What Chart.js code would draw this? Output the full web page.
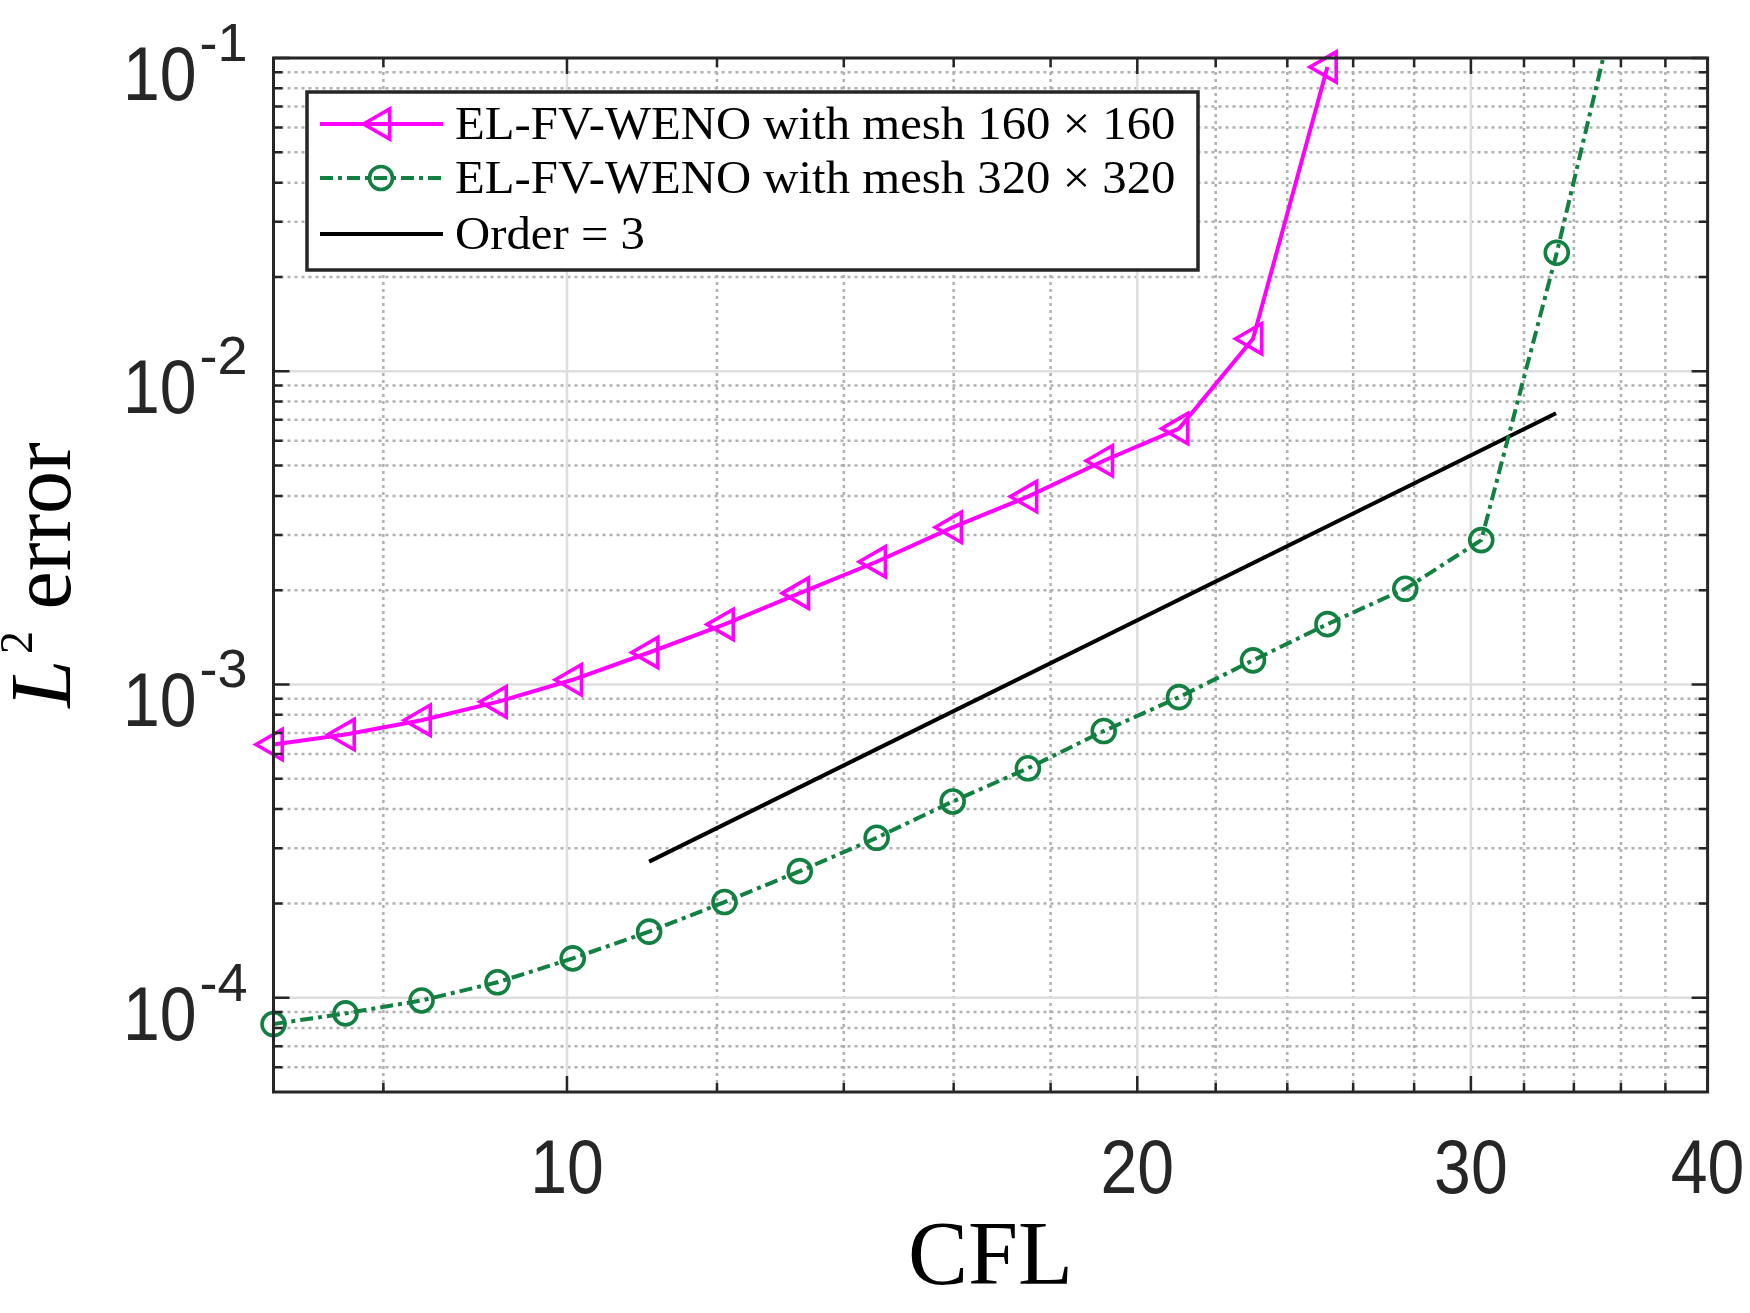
<!DOCTYPE html>
<html>
<head>
<meta charset="utf-8">
<script src="https://cdn.jsdelivr.net/npm/chart.js@4.4.0/dist/chart.umd.min.js"></script>
<style>
  html, body { margin: 0; padding: 0; background: #fff; }
  #wrap { width: 1750px; height: 1313px; position: relative; }
</style>
</head>
<body>
<div id="wrap"><canvas id="errChart"></canvas></div>
<script>
// CFL numbers shared by both runs
const cfl = [7.0, 7.64, 8.38, 9.19, 10.07, 11.05, 12.11, 13.27, 14.57, 15.98,
             17.51, 19.2, 21.04, 23.02, 25.2, 27.7, 30.38, 33.3, 36.5];
// L2 error, mesh 160 x 160
const err160 = [6.43e-4, 6.92e-4, 7.69e-4, 8.8e-4, 1.035e-3, 1.265e-3, 1.555e-3,
                1.957e-3, 2.465e-3, 3.175e-3, 3.98e-3, 5.18e-3, 6.56e-3, 1.27e-2, 9.36e-2];
// L2 error, mesh 320 x 320
const err320 = [8.24e-5, 8.91e-5, 9.8e-5, 1.12e-4, 1.335e-4, 1.625e-4, 2.02e-4,
                2.535e-4, 3.24e-4, 4.23e-4, 5.4e-4, 7.1e-4, 9.11e-4, 1.194e-3,
                1.558e-3, 2.02e-3, 2.89e-3, 2.39e-2, 0.245];
// reference slope line
const orderX = [11.05, 33.27];
const orderY = [2.72e-4, 7.34e-3];

const xMajor = [10, 20, 30, 40];
const xMinor = [8, 12, 14, 16, 18, 22, 24, 26, 28, 32, 34, 36, 38];
const yMajorExp = [-4, -3, -2, -1];
const legendLabels = ['EL-FV-WENO with mesh 160 \u00d7 160',
                      'EL-FV-WENO with mesh 320 \u00d7 320',
                      'Order = 3'];

const MAGENTA = '#ff00ff';
const GREEN = '#118040';
const AXIS = '#262626';
const GREEN_DASH = [13, 5, 4, 5];
const SANS = '"Liberation Sans", Arial, sans-serif';
const SERIF = '"Liberation Serif", "Times New Roman", serif';

function toPoints(xs, ys) {
    return ys.map((v, i) => ({ x: xs[i], y: v }));
}

// all y grid values (minor) inside the axis range
function yMinorValues(min, max) {
    const out = [];
    for (let e = -5; e <= -1; e++) {
        for (let k = 2; k <= 9; k++) {
            const v = k * Math.pow(10, e);
            if (v > min * 1.0001 && v < max * 0.9999) out.push(v);
        }
    }
    return out;
}

// text squeezed horizontally (tick digits are narrower than Arial)
function squeezedText(ctx, txt, x, y, sx) {
    ctx.save();
    ctx.translate(x, y);
    ctx.scale(sx, 1);
    ctx.fillText(txt, 0, 0);
    ctx.restore();
}

const decor = {
    id: 'decor',
    beforeDatasetsDraw(chart) {
        const ctx = chart.ctx;
        const a = chart.chartArea;
        const xs = chart.scales.x, ys = chart.scales.y;
        ctx.save();
        // minor grid, dotted
        ctx.strokeStyle = '#b0b0b0';
        ctx.lineWidth = 2.5;
        ctx.setLineDash([3, 4]);
        xMinor.forEach(v => {
            const px = xs.getPixelForValue(v);
            ctx.beginPath(); ctx.moveTo(px, a.top); ctx.lineTo(px, a.bottom); ctx.stroke();
        });
        yMinorValues(ys.min, ys.max).forEach(v => {
            const py = ys.getPixelForValue(v);
            ctx.beginPath(); ctx.moveTo(a.left, py); ctx.lineTo(a.right, py); ctx.stroke();
        });
        // major grid, solid
        ctx.setLineDash([]);
        ctx.strokeStyle = '#dedede';
        ctx.lineWidth = 2.5;
        xMajor.forEach(v => {
            const px = xs.getPixelForValue(v);
            ctx.beginPath(); ctx.moveTo(px, a.top); ctx.lineTo(px, a.bottom); ctx.stroke();
        });
        yMajorExp.forEach(e => {
            const py = ys.getPixelForValue(Math.pow(10, e));
            ctx.beginPath(); ctx.moveTo(a.left, py); ctx.lineTo(a.right, py); ctx.stroke();
        });
        ctx.restore();
    },
    afterDatasetsDraw(chart) {
        const ctx = chart.ctx;
        const a = chart.chartArea;
        const xs = chart.scales.x, ys = chart.scales.y;
        ctx.save();

        // ticks, inward on all four sides
        ctx.strokeStyle = AXIS;
        ctx.lineWidth = 2.5;
        const tickX = (v, len) => {
            const px = xs.getPixelForValue(v);
            ctx.beginPath();
            ctx.moveTo(px, a.bottom); ctx.lineTo(px, a.bottom - len);
            ctx.moveTo(px, a.top); ctx.lineTo(px, a.top + len);
            ctx.stroke();
        };
        const tickY = (v, len) => {
            const py = ys.getPixelForValue(v);
            ctx.beginPath();
            ctx.moveTo(a.left, py); ctx.lineTo(a.left + len, py);
            ctx.moveTo(a.right, py); ctx.lineTo(a.right - len, py);
            ctx.stroke();
        };
        xMinor.forEach(v => tickX(v, 9));
        xMajor.forEach(v => tickX(v, 16));
        yMinorValues(ys.min, ys.max).forEach(v => tickY(v, 9));
        yMajorExp.forEach(e => tickY(Math.pow(10, e), 16));

        // box
        ctx.lineWidth = 3;
        ctx.strokeRect(a.left, a.top, a.right - a.left, a.bottom - a.top);

        // x tick labels
        const SQ = 0.87;
        ctx.fillStyle = AXIS;
        ctx.font = '76px ' + SANS;
        ctx.textAlign = 'left';
        ctx.textBaseline = 'alphabetic';
        xMajor.forEach(v => {
            const w = ctx.measureText(String(v)).width * SQ;
            squeezedText(ctx, String(v), xs.getPixelForValue(v) - w / 2, a.bottom + 101, SQ);
        });

        // y tick labels 10^e
        yMajorExp.forEach(e => {
            const py = ys.getPixelForValue(Math.pow(10, e));
            const base = '10', sup = String(e);
            ctx.font = '76px ' + SANS;
            const wb = ctx.measureText(base).width * SQ;
            ctx.font = '54px ' + SANS;
            const ws = ctx.measureText(sup).width;
            const right = a.left - 26;
            const x0 = right - ws - 3 - wb;
            ctx.font = '76px ' + SANS;
            squeezedText(ctx, base, x0, py + 42, SQ);
            ctx.font = '54px ' + SANS;
            ctx.fillText(sup, x0 + wb + 3, py + 3);
        });

        // x title
        ctx.fillStyle = '#000';
        ctx.font = '90px ' + SERIF;
        ctx.textAlign = 'center';
        ctx.fillText('CFL', (a.left + a.right) / 2, 1284);

        // y title: L^2 error, rotated
        ctx.save();
        ctx.translate(70, (a.top + a.bottom) / 2);
        ctx.rotate(-Math.PI / 2);
        ctx.textAlign = 'left';
        const fL = 'italic 86px ' + SERIF;
        const f2 = '46px ' + SERIF;
        const fE = '86px ' + SERIF;
        ctx.font = fL; const wL = ctx.measureText('L').width;
        ctx.font = f2; const w2 = ctx.measureText('2').width;
        ctx.font = fE; const wE = ctx.measureText(' error').width;
        let tx = -(wL + w2 + 6 + wE) / 2;
        ctx.font = fL; ctx.fillText('L', tx, 0); tx += wL + 6;
        ctx.font = f2; ctx.fillText('2', tx, -38); tx += w2;
        ctx.font = fE; ctx.fillText(' error', tx, 0);
        ctx.restore();

        // legend
        const lx = 307, ly = 92, lw = 891, lh = 178;
        ctx.fillStyle = '#fff';
        ctx.fillRect(lx, ly, lw, lh);
        ctx.strokeStyle = AXIS;
        ctx.lineWidth = 3.5;
        ctx.strokeRect(lx, ly, lw, lh);
        const rows = [124, 178, 234];
        const styles = [
            { color: MAGENTA, dash: [], width: 4, marker: 'tri' },
            { color: GREEN, dash: GREEN_DASH, width: 4, marker: 'circ' },
            { color: '#000', dash: [], width: 4, marker: null }
        ];
        rows.forEach((ry, i) => {
            const s = styles[i];
            ctx.strokeStyle = s.color;
            ctx.lineWidth = s.width;
            ctx.setLineDash(s.dash);
            ctx.beginPath(); ctx.moveTo(320, ry); ctx.lineTo(443, ry); ctx.stroke();
            ctx.setLineDash([]);
            ctx.lineWidth = 3.6;
            if (s.marker === 'tri') {
                const r = 17.5, cx = 381;
                ctx.beginPath();
                ctx.moveTo(cx - r, ry);
                ctx.lineTo(cx + r / 2, ry - r * 0.866);
                ctx.lineTo(cx + r / 2, ry + r * 0.866);
                ctx.closePath();
                ctx.stroke();
            } else if (s.marker === 'circ') {
                ctx.beginPath(); ctx.arc(381, ry, 11.5, 0, Math.PI * 2); ctx.stroke();
            }
            ctx.fillStyle = '#000';
            ctx.font = '46px ' + SERIF;
            ctx.textAlign = 'left';
            squeezedText(ctx, legendLabels[i], 455, ry + 15, 1.06);
        });

        ctx.restore();
    }
};

const ctx = document.getElementById('errChart').getContext('2d');
const errChart = new Chart(ctx, {
    type: 'line',
    data: {
        datasets: [
            {
                label: legendLabels[0],
                data: toPoints(cfl, err160),
                borderColor: MAGENTA,
                backgroundColor: 'rgba(0,0,0,0)',
                borderWidth: 4,
                pointStyle: 'triangle',
                pointRotation: -90,
                pointRadius: 17.5,
                pointBorderWidth: 3.6,
                pointBorderColor: MAGENTA,
                pointBackgroundColor: 'rgba(0,0,0,0)',
                tension: 0,
                clip: { left: 30, top: 15, right: 0, bottom: 0 }
            },
            {
                label: legendLabels[1],
                data: toPoints(cfl, err320),
                borderColor: GREEN,
                backgroundColor: 'rgba(0,0,0,0)',
                borderWidth: 4,
                borderDash: GREEN_DASH,
                pointStyle: 'circle',
                pointRadius: 11.5,
                pointBorderWidth: 3.6,
                pointBorderColor: GREEN,
                pointBackgroundColor: 'rgba(0,0,0,0)',
                tension: 0,
                clip: { left: 30, top: 0, right: 0, bottom: 0 }
            },
            {
                label: legendLabels[2],
                data: toPoints(orderX, orderY),
                borderColor: '#000',
                borderWidth: 4,
                pointRadius: 0,
                tension: 0
            }
        ]
    },
    options: {
        responsive: true,
        maintainAspectRatio: false,
        animation: false,
        layout: { padding: { left: 273.5, right: 42.4, top: 58, bottom: 221 } },
        scales: {
            x: { type: 'logarithmic', min: 7, max: 40, display: false },
            y: { type: 'logarithmic', min: 5e-5, max: 0.1, display: false }
        },
        plugins: {
            legend: { display: false },
            tooltip: { enabled: false }
        }
    },
    plugins: [decor]
});
</script>
</body>
</html>
